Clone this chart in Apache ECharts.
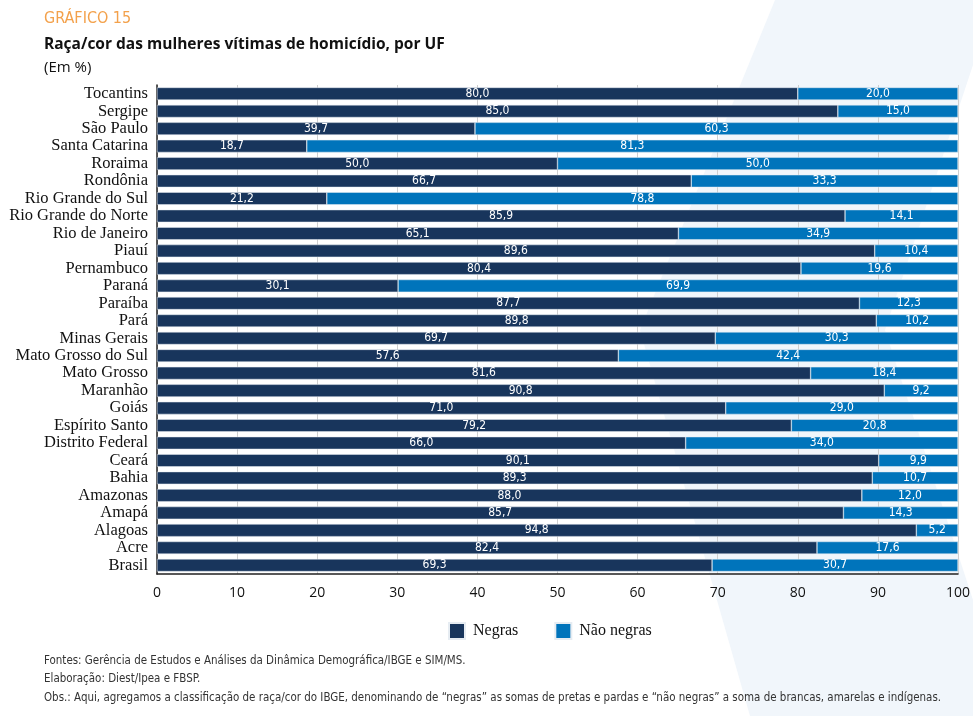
<!DOCTYPE html>
<html><head><meta charset="utf-8">
<script src="https://cdn.jsdelivr.net/npm/echarts@6/dist/echarts.min.js"></script>
<style>html,body{margin:0;padding:0;background:#fff}#c{width:973px;height:716px}</style>
</head><body><div id="c"></div>
<script>
const categories = ["Tocantins","Sergipe","São Paulo","Santa Catarina","Roraima","Rondônia","Rio Grande do Sul","Rio Grande do Norte","Rio de Janeiro","Piauí","Pernambuco","Paraná","Paraíba","Pará","Minas Gerais","Mato Grosso do Sul","Mato Grosso","Maranhão","Goiás","Espírito Santo","Distrito Federal","Ceará","Bahia","Amazonas","Amapá","Alagoas","Acre","Brasil"];
const negras = [80.0,85.0,39.7,18.7,50.0,66.7,21.2,85.9,65.1,89.6,80.4,30.1,87.7,89.8,69.7,57.6,81.6,90.8,71.0,79.2,66.0,90.1,89.3,88.0,85.7,94.8,82.4,69.3];
const naoNegras = [20.0,15.0,60.3,81.3,50.0,33.3,78.8,14.1,34.9,10.4,19.6,69.9,12.3,10.2,30.3,42.4,18.4,9.2,29.0,20.8,34.0,9.9,10.7,12.0,14.3,5.2,17.6,30.7];
const xTicks = [0,10,20,30,40,50,60,70,80,90,100];

const chart = echarts.init(document.getElementById('c'), null, {renderer:'canvas'});
const fmt = p => p.value.toFixed(1).replace('.', ',');
const cond = '"Liberation Sans Narrow", "DejaVu Sans Condensed", sans-serif';
const lbl = {show:true, position:'inside', color:'#fff', fontFamily:cond, fontSize:12, formatter:fmt};
function note(txt, top){
  return {type:'text', x:44, y:top, scaleX:0.955, originX:0, originY:0,
    style:{text:txt, fill:'#333', font:'12px ' + cond}};
}
chart.setOption({
  backgroundColor:'#fff',
  animation:false,
  graphic:[
    {type:'polygon', z:-10, shape:{points:[[775,0],[973,0],[973,65],[885,330],[973,600],[973,716],[750,716],[640,330]]}, style:{fill:'#f1f6fb'}},
    {type:'text', left:44, top:11, style:{text:'GRÁFICO 15', fill:'#f3a14b', font:'16px ' + cond}},
    {type:'text', x:44, y:36, scaleX:0.97, originX:0, originY:0, style:{text:'Raça/cor das mulheres vítimas de homicídio, por UF', fill:'#111', font:'bold 16px "Open Sans", "Liberation Sans", sans-serif'}},
    {type:'text', left:44, top:60, style:{text:'(Em %)', fill:'#111', font:'15px "Open Sans", "Liberation Sans", sans-serif'}},
    note('Fontes: Gerência de Estudos e Análises da Dinâmica Demográfica/IBGE e SIM/MS.', 655),
    note('Elaboração: Diest/Ipea e FBSP.', 673),
    note('Obs.: Aqui, agregamos a classificação de raça/cor do IBGE, denominando de “negras” as somas de pretas e pardas e “não negras” a soma de brancas, amarelas e indígenas.', 692)
  ],
  legend:{left:443, top:617, itemWidth:16, itemHeight:16, itemGap:36, itemStyle:{}, icon:'rect',
    textStyle:{fontFamily:'Liberation Serif, serif', fontSize:16, color:'#111', padding:[0,0,0,3]},
    data:['Negras','Não negras']},
  grid:{left:157, right:13, top:85, bottom:142, containLabel:false},
  xAxis:{type:'value', min:0, max:100, interval:10,
    axisLine:{show:true, lineStyle:{color:'#222', width:1.5}},
    axisTick:{show:false},
    axisLabel:{color:'#111', fontSize:14, fontFamily:'Open Sans, Liberation Sans, sans-serif', margin:12, formatter:v=>String(v)},
    splitLine:{show:true, lineStyle:{color:'#cfcfcf', width:1}}},
  yAxis:{type:'category', data:categories, inverse:true,
    axisLine:{show:true, lineStyle:{color:'#222', width:1.5}},
    axisTick:{show:false},
    axisLabel:{color:'#111', fontSize:16.5, fontFamily:'Liberation Serif, serif', margin:9, interval:0}},
  series:[
    {name:'Negras', type:'bar', stack:'t', data:negras, barCategoryGap:'28%', itemStyle:{color:'#18355c', borderColor:'#e6ecf2', borderWidth:0.5}, label:lbl},
    {name:'Não negras', type:'bar', stack:'t', data:naoNegras, barCategoryGap:'28%', itemStyle:{color:'#0074bb', borderColor:'#e6ecf2', borderWidth:0.5}, label:lbl}
  ]
});
</script></body></html>
